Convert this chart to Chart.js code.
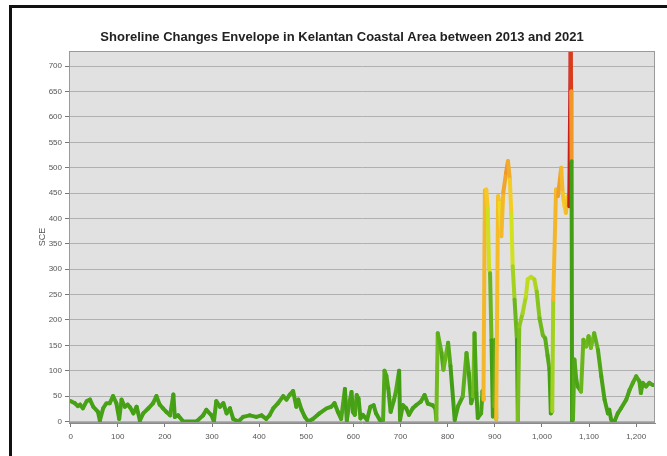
<!DOCTYPE html>
<html>
<head>
<meta charset="utf-8">
<script src="https://cdn.jsdelivr.net/npm/chart.js@4.4.0/dist/chart.umd.min.js"></script>
<style>
    html, body { margin: 0; padding: 0; background: #fff; }
    #wrap { position: relative; width: 667px; height: 456px; overflow: hidden; }
    #frame {
        position: absolute; left: 9px; top: 5px; right: -10px; bottom: -10px;
        border-left: 3px solid #111; border-top: 3px solid #111; pointer-events: none;
    }
</style>
</head>
<body>
<div id="wrap">
    <canvas id="sceChart" width="667" height="456" style="width:667px;height:456px"></canvas>
    <div id="frame"></div>
</div>
<script>
// transect positions along the coast
const positions = [
    0, 9, 15, 20, 26, 34, 41, 48, 55, 58,
    62, 69, 76, 83, 90, 97, 103, 108, 115, 121,
    126, 133, 140, 147, 154, 165, 175, 182, 189, 196,
    203, 211, 218, 221, 228, 239, 250, 267, 281, 288,
    299, 304, 309, 317, 324, 331, 338, 345, 356, 366,
    380, 394, 405, 415, 422, 430, 440, 451, 458, 465,
    472, 479, 483, 490, 497, 504, 514, 528, 543, 553,
    560, 567, 574, 582, 586, 592, 596, 599, 603, 607,
    611, 615, 620, 629, 636, 643, 648, 656, 663, 666,
    670, 674, 679, 686, 690, 697, 699, 705, 712, 718,
    726, 733, 743, 751, 758, 768, 774, 776, 779, 787,
    791, 801, 806, 815, 822, 832, 840, 845, 850, 854,
    857, 861, 864, 871, 874, 876, 879, 882, 885, 888,
    890, 893, 896, 899, 901, 903, 907, 910, 914, 918,
    924, 928, 932, 935, 938, 942, 947, 949, 952, 959,
    966, 970, 977, 984, 989, 995, 1002, 1007, 1012, 1016,
    1019, 1022, 1024, 1030, 1034, 1041, 1044, 1048, 1051, 1055,
    1058, 1061, 1062, 1063, 1064, 1066, 1069, 1073, 1076, 1083,
    1088, 1094, 1099, 1104, 1111, 1119, 1126, 1133, 1140, 1143,
    1147, 1154, 1161, 1168, 1179, 1186, 1193, 1200, 1207, 1210,
    1214, 1221, 1228, 1235, 1240
];

// shoreline change envelope (m)
const sce = [
    40, 36, 30, 33, 26, 40, 43, 29, 22, 19,
    2, 26, 36, 36, 50, 36, 5, 43, 29, 33,
    28, 16, 29, 2, 16, 26, 36, 50, 33, 26,
    19, 12, 53, 9, 12, 0, 0, 0, 12, 23,
    12, 0, 40, 29, 36, 16, 26, 5, 0, 9,
    12, 9, 12, 5, 12, 26, 36, 50, 43, 53,
    60, 29, 43, 23, 9, 0, 5, 16, 26, 29,
    36, 19, 5, 64, 2, 40, 58, 19, 13, 52,
    45, 6, 13, 3, 29, 32, 16, 3, 3, 100,
    90, 65, 19, 42, 58, 100, 3, 32, 26, 13,
    26, 32, 39, 52, 35, 32, 26, 3, 174, 135,
    102, 155, 109, 3, 30, 49, 135, 95, 36, 49,
    174, 56, 7, 16, 60, 43, 455, 457, 420, 300,
    292, 160, 10, 30, 161, 5, 444, 431, 365, 451,
    490, 513, 477, 411, 306, 240, 161, 0, 187, 213,
    246, 280, 285, 280, 256, 203, 170, 164, 130, 103,
    16, 20, 240, 457, 444, 500, 450, 424, 411, 444,
    424, 735, 650, 513, 0, 5, 122, 82, 69, 59,
    161, 148, 168, 145, 174, 141, 89, 43, 16, 23,
    3, 0, 16, 26, 43, 62, 76, 89, 79, 56,
    76, 69, 76, 72, 72
];

const xTicks = [0, 100, 200, 300, 400, 500, 600, 700, 800, 900, 1000, 1100, 1200];
const yTicks = [0, 50, 100, 150, 200, 250, 300, 350, 400, 450, 500, 550, 600, 650, 700];

const chartTitle = 'Shoreline Changes Envelope in Kelantan Coastal Area between 2013 and 2021';
const axisTitle = 'SCE';

// green -> yellow -> orange -> red by value
const colorStops = [
    [0, [66, 158, 20]],
    [120, [84, 170, 26]],
    [180, [118, 188, 30]],
    [250, [170, 212, 30]],
    [320, [220, 228, 30]],
    [390, [242, 216, 36]],
    [440, [245, 190, 40]],
    [500, [240, 160, 42]],
    [580, [232, 110, 30]],
    [650, [218, 60, 26]],
    [730, [200, 30, 30]]
];

function sceColor(v) {
    if (v <= colorStops[0][0]) return 'rgb(' + colorStops[0][1].join(',') + ')';
    for (let i = 1; i < colorStops.length; i++) {
        const [v1, c1] = colorStops[i];
        if (v <= v1) {
            const [v0, c0] = colorStops[i - 1];
            const t = (v - v0) / (v1 - v0);
            const c = c0.map((a, k) => Math.round(a + (c1[k] - a) * t));
            return 'rgb(' + c.join(',') + ')';
        }
    }
    return 'rgb(' + colorStops[colorStops.length - 1][1].join(',') + ')';
}

// grey plot background and outline
const plotBackground = {
    id: 'plotBackground',
    beforeDraw(chart) {
        const { ctx, chartArea: a } = chart;
        ctx.save();
        ctx.fillStyle = '#e1e1e1';
        ctx.fillRect(a.left, a.top, a.right - a.left, a.bottom - a.top);
        ctx.restore();
    },
    afterDraw(chart) {
        const { ctx, chartArea: a } = chart;
        ctx.save();
        ctx.strokeStyle = '#9a9a9a';
        ctx.lineWidth = 1;
        ctx.strokeRect(a.left + 0.5, a.top + 0.5, a.right - a.left - 1, a.bottom - a.top - 1);
        ctx.restore();
    }
};

const tickFont = { family: 'Liberation Sans', size: 8 };

new Chart(document.getElementById('sceChart'), {
    type: 'line',
    data: {
        datasets: [{
            label: axisTitle,
            data: positions.map((x, i) => ({ x: x, y: sce[i] })),
            borderColor: sceColor(40),
            borderWidth: 4,
            borderJoinStyle: 'round',
            borderCapStyle: 'round',
            pointRadius: 0,
            tension: 0,
            segment: {
                borderColor: ctx => sceColor(ctx.p1.parsed.y)
            }
        }]
    },
    options: {
        responsive: false,
        animation: false,
        layout: { padding: { left: 29, right: 12, top: 0, bottom: 0 } },
        plugins: {
            legend: { display: false },
            tooltip: { enabled: false },
            title: {
                display: true,
                text: chartTitle,
                color: '#222',
                font: { family: 'Liberation Sans', size: 13, weight: 'bold' },
                padding: { top: 29.5, bottom: 5.9 }
            }
        },
        scales: {
            x: {
                type: 'linear',
                min: -3.5,
                max: 1240,
                afterBuildTicks: s => { s.ticks = xTicks.map(v => ({ value: v })); },
                afterFit: s => { s.height = 33; },
                grid: { drawOnChartArea: false, drawTicks: true, tickLength: 4, tickColor: '#777' },
                border: { display: true, color: '#8a8a8a' },
                ticks: {
                    autoSkip: false,
                    maxRotation: 0,
                    padding: 5,
                    color: '#555',
                    font: tickFont,
                    callback: v => v.toLocaleString('en-US')
                }
            },
            y: {
                type: 'linear',
                min: -3,
                max: 730,
                afterBuildTicks: s => { s.ticks = yTicks.map(v => ({ value: v })); },
                afterFit: s => { s.width = 40; },
                grid: { color: '#b0b0b0', lineWidth: 1, drawTicks: true, tickLength: 4, tickColor: '#777' },
                border: { display: true, color: '#8a8a8a' },
                ticks: { padding: 3, color: '#555', font: tickFont },
                title: {
                    display: true,
                    text: axisTitle,
                    color: '#555',
                    font: { family: 'Liberation Sans', size: 9 },
                    padding: { top: 8, bottom: 0 }
                }
            }
        }
    },
    plugins: [plotBackground]
});
</script>
</body>
</html>
